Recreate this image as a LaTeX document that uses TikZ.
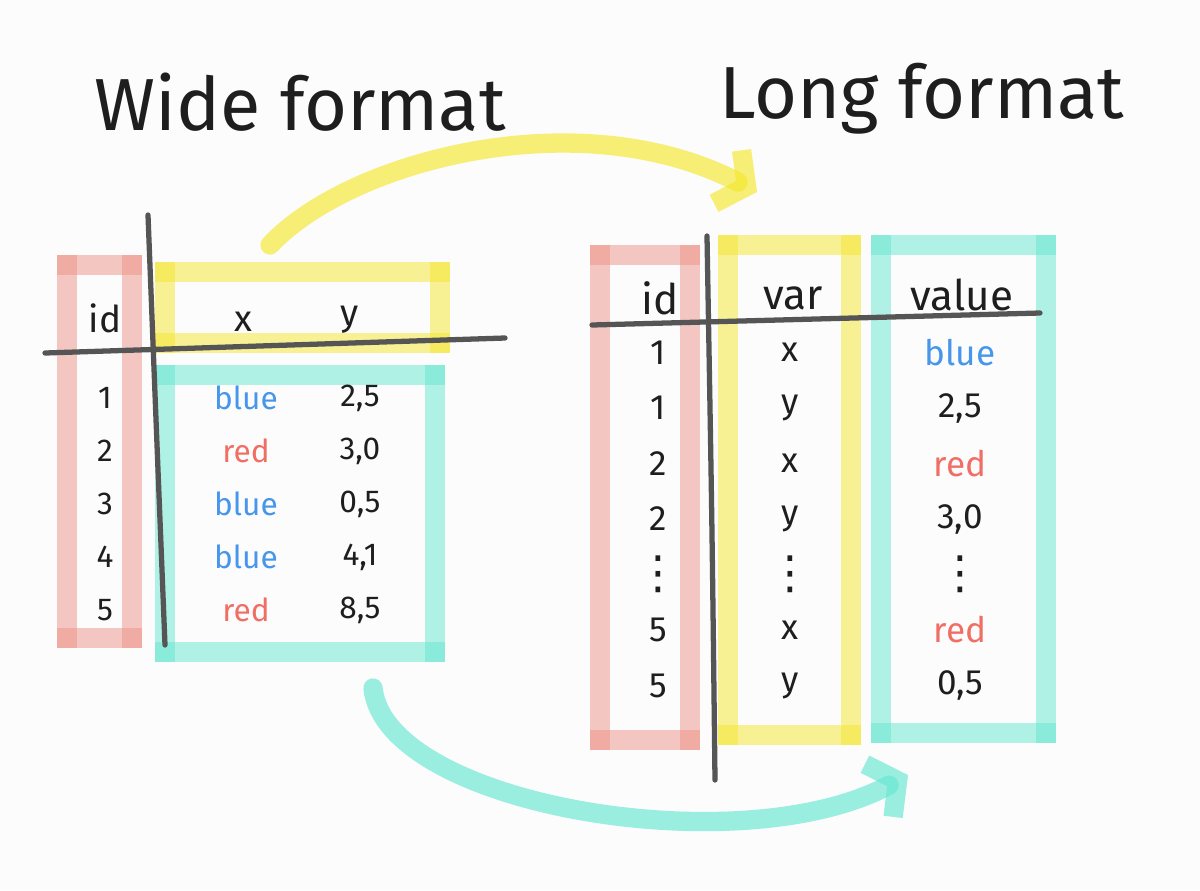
\documentclass[tikz,border=0pt]{standalone}
\usepackage{fontspec}
\setmainfont{Fira Sans}
\newfontfamily\symfont{DejaVu Sans}
\usetikzlibrary{arrows.meta}
\definecolor{pinkhl}{RGB}{237,145,135}
\definecolor{yellowhl}{RGB}{245,231,45}
\definecolor{cyanhl}{RGB}{101,231,209}
\definecolor{penblue}{RGB}{70,150,235}
\definecolor{penred}{RGB}{240,110,100}
\definecolor{pen}{RGB}{30,30,30}
\definecolor{rulegray}{RGB}{85,85,85}
\definecolor{paper}{RGB}{252,252,252}

% highlighter box, four separate strokes
\newcommand{\hlbox}[5]{%
  \draw[hl, #1] (#2,#3) -- (#4,#3);
  \draw[hl, #1] (#4,#3) -- (#4,#5);
  \draw[hl, #1] (#4,#5) -- (#2,#5);
  \draw[hl, #1] (#2,#5) -- (#2,#3);
}
% taller vertical dots
\newcommand{\tallvdots}{{\symfont\fontsize{26}{28}\selectfont ⋮}}

\tikzset{
  hl/.style={line width=11pt, line cap=rect, draw opacity=0.5},
  gridline/.style={line width=3pt, rulegray, line cap=round},
  sweep/.style={line width=11pt, draw opacity=0.65, line cap=round,
    -{Straight Barb[length=12pt 0, width=34pt 0]}},
  title/.style={font=\fontsize{42}{48}\selectfont, text=pen, anchor=base},
  whead/.style={font=\fontsize{21}{24}\selectfont, text=pen},
  wcell/.style={font=\fontsize{18}{20}\selectfont, text=pen, inner sep=1pt},
  lhead/.style={font=\fontsize{24}{28}\selectfont, text=pen},
  lcell/.style={font=\fontsize{20}{24}\selectfont, text=pen, inner sep=1pt}
}

\begin{document}
\begin{tikzpicture}[x=0.02cm, y=-0.02cm]
  \fill[paper] (0,0) rectangle (1200,890);
  \useasboundingbox (0,0) rectangle (1200,890);
  % titles
  \node[title] (widetitle) at (300,130) {Wide format};
  \node[title] (longtitle) at (922,118) {Long format};
  % wide table highlights
  \hlbox{pinkhl}{67}{265}{132}{638}
  \hlbox{yellowhl}{165}{272}{440}{343}
  \hlbox{cyanhl}{165}{375}{435}{652}
  % wide table rules
  \draw[gridline] (148,215) .. controls (156,420) .. (165,645);
  \draw[gridline] (45,353) -- (505,338);
  % wide table header
  \node[whead] (wid) at (105,318) {id};
  \node[whead] (wx) at (243,322) {x};
  \node[whead] (wy) at (350,320) {y};
  % wide table rows
  \foreach \n/\c/\w/\v [count=\i] in {1/penblue/blue/{2,5}, 2/penred/red/{3,0},
      3/penblue/blue/{0,5}, 4/penblue/blue/{4,1}, 5/penred/red/{8,5}} {
    \node[wcell] (wid\i) at (105, 345+\i*53) {\n};
    \node[wcell, text=\c] (wcol\i) at (246, 345+\i*53) {\w};
    \node[wcell] (wval\i) at (360, 345+\i*53) {\v};
  }
  % long table highlights
  \hlbox{pinkhl}{600}{255}{690}{740}
  \hlbox{yellowhl}{728}{245}{851}{735}
  \hlbox{cyanhl}{881}{245}{1046}{733}
  % long table rules
  \draw[gridline] (707,236) .. controls (712,520) .. (715,780);
  \draw[gridline] (592,325) -- (1040,313);
  % long table header
  \node[lhead] (lid) at (660,298) {id};
  \node[lhead] (lvar) at (793,298) {var};
  \node[lhead] (lvalue) at (962,295) {value};
  % long table rows
  \foreach \n/\v/\c/\w [count=\i] in {1/x/penblue/blue, 1/y/pen/{2,5},
      2/x/penred/red, 2/y/pen/{3,0}, \tallvdots/\tallvdots/pen/\tallvdots,
      5/x/penred/red, 5/y/pen/{0,5}} {
    \node[lcell] (lid\i) at (658, 297+\i*55.5) {\n};
    \node[lcell] (lvar\i) at (790, 297+\i*55.5) {\v};
    \node[lcell, text=\c] (lval\i) at (960, 297+\i*55.5) {\w};
  }
  % arrows
  \coordinate (ystart) at (270,245);
  \coordinate (yend) at (757,192);
  \coordinate (cstart) at (373,688);
  \coordinate (cend) at (908,775);
  \draw[sweep, yellowhl] (ystart) .. controls (350,160) and (580,100) .. (yend);
  \draw[sweep, cyanhl] (cstart) .. controls (385,805) and (740,865) .. (cend);
\end{tikzpicture}
\end{document}
